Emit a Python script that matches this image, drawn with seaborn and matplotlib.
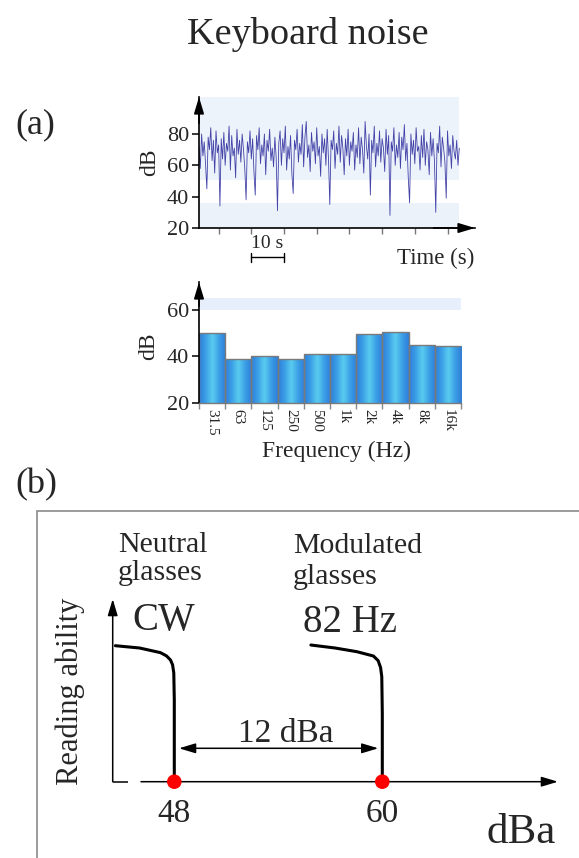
import numpy as np
import pandas as pd
import matplotlib
matplotlib.use("Agg")
import matplotlib.pyplot as plt
import matplotlib.transforms as mtransforms
from matplotlib.patches import Rectangle
from matplotlib.colors import LinearSegmentedColormap
import seaborn as sns

sns.set_theme(style="white")
plt.rcParams["font.family"] = ["Liberation Serif", "DejaVu Serif"]

W, H, DPI = 579, 858, 100

# ---- keyboard noise level over time (dB), one sample every 0.4 s from t = 4 s
noise_start = 4.0
noise_step = 0.4
noise_db = [
    72, 58, 80, 66, 75, 61, 45, 78, 70, 84, 63, 76, 55, 82, 68, 73, 34, 77, 64, 81,
    60, 74, 69, 85, 57, 79, 66, 71, 52, 83, 67, 76, 62, 80, 70, 58, 38, 75, 68, 82,
    64, 77, 56, 41, 79, 70, 84, 61, 73, 66, 80, 54, 76, 69, 83, 63, 71, 59, 78, 65,
    31, 74, 82, 60, 77, 68, 85, 57, 72, 64, 79, 55, 42, 76, 70, 83, 62, 74, 67, 86,
    59, 78, 88, 65, 73, 56, 81, 69, 75, 61, 84, 66, 72, 53, 80, 68, 77, 60, 83, 64,
    35, 76, 70, 82, 58, 74, 67, 85, 62, 79, 71, 54, 77, 66, 83, 60, 75, 69, 81, 57,
    73, 65, 84, 61, 78, 70, 55, 88, 72, 64, 80, 41, 76, 68, 85, 59, 74, 66, 82, 62,
    77, 71, 56, 83, 67, 79, 28, 75, 69, 84, 60, 73, 65, 81, 58, 78, 70, 86, 63, 74,
    52, 36, 80, 67, 76, 61, 84, 69, 72, 57, 79, 65, 83, 60, 75, 70, 54, 81, 66, 77,
    63, 30, 74, 68, 85, 59, 78, 71, 62, 39, 82, 66, 73, 58, 79, 69, 64, 76, 60, 71,
]
time_ticks = [10, 20, 30, 40, 50, 60, 70, 80]
time_yticks = [20, 40, 60, 80]
scale_bar_s = [20, 30]

# ---- octave-band spectrum of the same noise
band_labels = ["31.5", "63", "125", "250", "500", "1k", "2k", "4k", "8k", "16k"]
band_db = [50, 39, 40, 39, 41, 41, 49.5, 50.5, 45, 44.5]
band_yticks = [20, 40, 60]

# ---- reading ability versus noise level for the two kinds of glasses
cw_dba = [44.6, 46.0, 47.2, 47.55, 47.78, 47.9, 47.97, 48.0, 48.0]
cw_ability = [1.0, 0.983, 0.949, 0.925, 0.895, 0.86, 0.80, 0.6, 0.0]
mod_dba = [55.88, 57.28, 58.53, 59.49, 59.76, 59.9, 59.97, 60.0, 60.0]
mod_ability = [1.005, 0.983, 0.956, 0.924, 0.89, 0.84, 0.772, 0.5, 0.0]
threshold_dba = [48, 60]
threshold_labels = ["48", "60"]
gap_label = "12 dBa"


def fx(x):
    return x / W


def fy(y):
    return 1 - y / H


def px_axes(x0, y0, x1, y1):
    return fig.add_axes([fx(x0), fy(y1), (x1 - x0) / W, (y1 - y0) / H])


def axis_arrow(ax, start, end, lw=1.2):
    ax.annotate("", xy=end, xytext=start, xycoords="axes fraction",
                textcoords="axes fraction", annotation_clip=False,
                arrowprops=dict(arrowstyle="-|>,head_length=0.5,head_width=0.15",
                                color="black", lw=lw, mutation_scale=20,
                                shrinkA=0, shrinkB=0))


fig = plt.figure(figsize=(W / DPI, H / DPI), dpi=DPI)
fig.patch.set_facecolor("white")

fig.text(fx(308), fy(44), "Keyboard noise", ha="center", va="baseline", fontsize=27.5)
fig.text(fx(35), fy(133), "(a)", ha="center", va="baseline", fontsize=26)
fig.text(fx(36), fy(493), "(b)", ha="center", va="baseline", fontsize=26)

# ======================= time trace =======================
ax1 = px_axes(199, 97, 475, 228)
t = noise_start + noise_step * np.arange(len(noise_db))
trace = pd.DataFrame({"t": t, "dB": noise_db})
t_end = t[-1]
x_hi = noise_start + 276 / 3.27
ax1.set_xlim(noise_start, x_hi)
ax1.set_ylim(20, 103.6)
band_frac = (t_end - noise_start) / (x_hi - noise_start)
ax1.axhspan(20, 36, xmin=0, xmax=band_frac, color="#ebf2fa", zorder=0, lw=0)
ax1.axhspan(50.6, 103.6, xmin=0, xmax=band_frac, color="#edf3fa", zorder=0, lw=0)
sns.lineplot(data=trace, x="t", y="dB", ax=ax1, color="#2f2f9f", lw=0.6,
             estimator=None, sort=False, alpha=0.9)
for s in ["top", "right"]:
    ax1.spines[s].set_visible(False)
for s in ["left", "bottom"]:
    ax1.spines[s].set_color("black")
    ax1.spines[s].set_linewidth(1.2)
ax1.set_xticks(time_ticks)
ax1.set_xticklabels([])
ax1.set_yticks(time_yticks)
ax1.tick_params(axis="y", labelsize=16, length=5, width=1.1, color="black",
                left=True, pad=2)
ax1.tick_params(axis="x", length=4, width=1, color="#777777", bottom=True)
ax1.set_xlabel("")
ax1.set_ylabel("")
axis_arrow(ax1, (0, 0.8), (0, 1))
axis_arrow(ax1, (0.85, 0), (1, 0))

# 10 s scale bar under the time axis
blend = mtransforms.blended_transform_factory(ax1.transData, ax1.transAxes)
yb = (228 - 257) / 131
ycap0, ycap1 = (228 - 253) / 131, (228 - 262) / 131
ax1.plot(scale_bar_s, [yb, yb], color="black", lw=1, transform=blend, clip_on=False)
for xs in scale_bar_s:
    ax1.plot([xs, xs], [ycap0, ycap1], color="black", lw=1, transform=blend, clip_on=False)
fig.text(fx(267), fy(248), "10 s", ha="center", va="baseline", fontsize=14)
fig.text(fx(436), fy(264), "Time (s)", ha="center", va="baseline", fontsize=16.5)
fig.text(fx(150), fy(162), "dB", ha="center", va="center", rotation=90, fontsize=17)

# ======================= spectrum bars =======================
ax2 = px_axes(199, 282, 461, 403)
spec = pd.DataFrame({"band": band_labels, "dB": band_db})
sns.barplot(data=spec, x="band", y="dB", ax=ax2, order=band_labels, width=1.0,
            color="#3fa6e6", edgecolor="#7a7a7a", linewidth=1.0, errorbar=None)
bars = list(ax2.patches)[:len(band_db)]
bar_cmap = LinearSegmentedColormap.from_list(
    "bar", ["#2d7fdb", "#3c9fe6", "#5acdf0", "#3c9fe6", "#2d7fdb"])
grad = np.linspace(0, 1, 64).reshape(1, -1)
for p in bars:
    x0 = p.get_x()
    x1 = x0 + p.get_width()
    y1 = p.get_y() + p.get_height()
    im = ax2.imshow(grad, extent=[x0, x1, 20, y1], cmap=bar_cmap, aspect="auto",
                    zorder=p.get_zorder() + 0.1, interpolation="bicubic")
    im.set_clip_path(p)
    p.set_facecolor("none")
    p.set_zorder(p.get_zorder() + 0.2)
ax2.set_aspect("auto")
ax2.set_xlim(-0.5, len(band_labels) - 0.5)
ax2.set_ylim(20, 72)
ax2.axhspan(60, 65, color="#e6effb", zorder=0, lw=0)
for s in ["top", "right"]:
    ax2.spines[s].set_visible(False)
ax2.spines["left"].set_color("black")
ax2.spines["left"].set_linewidth(1.2)
ax2.spines["bottom"].set_color("#7a7a7a")
ax2.spines["bottom"].set_linewidth(1.0)
ax2.set_yticks(band_yticks)
ax2.tick_params(axis="y", labelsize=16, length=5, width=1.1, color="black",
                left=True, pad=2)
ax2.set_xticks(range(len(band_labels)))
ax2.set_xticklabels(band_labels, rotation=270, fontsize=11)
ax2.tick_params(axis="x", length=0, pad=4)
ax2.set_xticks(np.arange(len(band_labels) + 1) - 0.5, minor=True)
ax2.tick_params(axis="x", which="minor", length=4, width=1, color="#888888",
                bottom=True)
ax2.set_xlabel("")
ax2.set_ylabel("")
axis_arrow(ax2, (0, 0.8), (0, 1))
fig.text(fx(336), fy(456.7), "Frequency (Hz)", ha="center", va="baseline", fontsize=17)
fig.text(fx(149), fy(346), "dB", ha="center", va="center", rotation=90, fontsize=17)

# ======================= panel (b) =======================
fig.add_artist(Rectangle((fx(36.5), -0.1), 1.2, fy(511) + 0.1, transform=fig.transFigure,
                         fill=False, edgecolor="#8a8a8a", lw=1.2))

ax3 = px_axes(112.7, 599, 558, 781.7)
ppd = 208 / 12.0  # pixels per dBa
ax3.set_xlim(48 - (174.3 - 112.7) / ppd, 48 + (558 - 174.3) / ppd)
ax3.set_ylim(0, 182.7 / 136)
ax3.axis("off")
sns.lineplot(x=cw_dba, y=cw_ability, ax=ax3, color="black", lw=2.2,
             estimator=None, sort=False)
sns.lineplot(x=mod_dba, y=mod_ability, ax=ax3, color="black", lw=2.2,
             estimator=None, sort=False)
sns.scatterplot(x=threshold_dba, y=[0, 0], ax=ax3, color="#ff0000", s=110,
                edgecolor="none", zorder=6, clip_on=False)

# axes with a break near the origin
axis_arrow(ax3, (0, 0), (0, 1), lw=1.1)
ax3.plot([0, (128 - 112.7) / 445.3], [0, 0], color="black", lw=1.1,
         transform=ax3.transAxes, clip_on=False, solid_capstyle="butt")
axis_arrow(ax3, ((141 - 112.7) / 445.3, 0), (1, 0), lw=1.1)

# 12 dBa span between the thresholds
y_arrow = (781.7 - 748.3) / 136
ax3.annotate("", xy=(threshold_dba[0] + 0.27, y_arrow),
             xytext=(threshold_dba[1] - 0.23, y_arrow),
             annotation_clip=False,
             arrowprops=dict(arrowstyle="<|-|>,head_length=0.5,head_width=0.15",
                             color="black", lw=1.1, mutation_scale=20,
                             shrinkA=0, shrinkB=0))
ax3.text(54.45, (781.7 - 741.7) / 136, gap_label, ha="center", va="baseline",
         fontsize=24)
for xv, lab in zip(threshold_dba, threshold_labels):
    ax3.text(xv, -(821.7 - 781.7) / 136, lab, ha="center", va="baseline",
             fontsize=24, clip_on=False)

fig.text(fx(118), fy(552), "Neutral", ha="left", va="baseline", fontsize=21.5)
fig.text(fx(118), fy(580), "glasses", ha="left", va="baseline", fontsize=21.5)
fig.text(fx(164), fy(630), "CW", ha="center", va="baseline", fontsize=28)
fig.text(fx(293), fy(553), "Modulated", ha="left", va="baseline", fontsize=21.5)
fig.text(fx(293), fy(584), "glasses", ha="left", va="baseline", fontsize=21.5)
fig.text(fx(350), fy(632), "82 Hz", ha="center", va="baseline", fontsize=28)
fig.text(fx(70), fy(691), "Reading ability", ha="center", va="center",
         rotation=90, fontsize=22)
fig.text(fx(521), fy(843), "dBa", ha="center", va="baseline", fontsize=31)

fig.savefig("out.png", dpi=DPI, facecolor="white")
